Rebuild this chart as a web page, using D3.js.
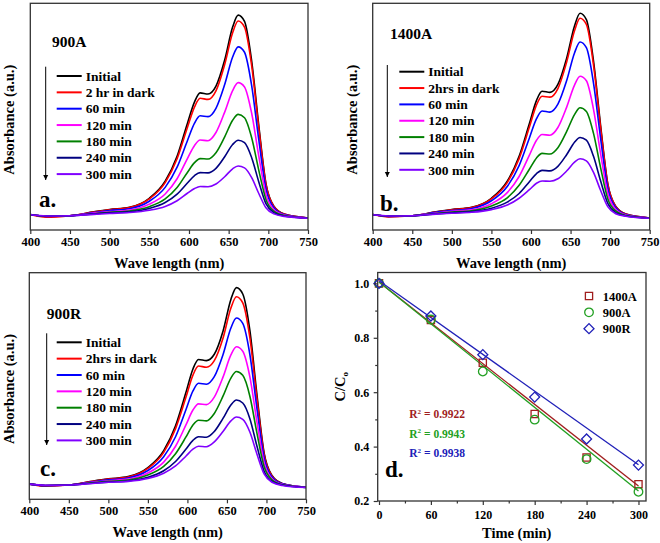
<!DOCTYPE html>
<html>
<head>
<meta charset="utf-8">
<script src="https://d3js.org/d3.v7.min.js"></script>
<style>
  body { margin: 0; background: #fff; }
  text { font-family: "Liberation Serif", "Times New Roman", serif; font-weight: bold; fill: #000; }
</style>
</head>
<body>
<svg id="fig" width="660" height="543"></svg>
<script>
// ---- data ----
const wavelengths = [400, 420, 450, 480, 500, 525, 550, 570, 585, 598, 607, 614, 624, 634, 645, 655, 662, 670, 679, 688, 697, 707, 720, 750];

const labels900A = ["Initial", "2 hr in dark", "60 min", "120 min", "180 min", "240 min", "300 min"];
const labelsOther = ["Initial", "2hrs in dark", "60 min", "120 min", "180 min", "240 min", "300 min"];
const curveColors = ["#000000", "#ff0000", "#0000ff", "#ff00ff", "#008000", "#000080", "#8000ff"];

// absorbance (a.u.), one row per time step
const spectra900A = [
  [.068,.060,.063,.080,.090,.100,.140,.215,.325,.470,.565,.605,.600,.635,.750,.895,.948,.920,.745,.460,.205,.105,.070,.053],
  [.068,.056,.063,.079,.089,.099,.137,.209,.314,.452,.543,.581,.576,.614,.730,.870,.922,.895,.725,.448,.201,.104,.070,.053],
  [.068,.060,.063,.077,.086,.094,.127,.188,.277,.394,.471,.504,.500,.537,.642,.763,.808,.784,.637,.397,.182,.098,.068,.053],
  [.067,.061,.063,.075,.081,.088,.114,.159,.226,.315,.373,.397,.394,.430,.520,.615,.650,.631,.515,.326,.157,.090,.066,.053],
  [.067,.061,.063,.072,.078,.084,.103,.137,.187,.254,.297,.315,.313,.341,.411,.484,.510,.495,.407,.263,.135,.083,.064,.052],
  [.067,.061,.063,.071,.076,.080,.095,.121,.158,.207,.240,.253,.252,.272,.323,.377,.396,.385,.319,.212,.116,.077,.062,.052],
  [.067,.062,.063,.069,.073,.077,.087,.104,.129,.162,.183,.192,.191,.203,.235,.270,.282,.274,.231,.161,.098,.071,.060,.052]
];
const spectra1400A = [
  [.068,.060,.063,.080,.090,.100,.140,.215,.325,.470,.572,.612,.607,.642,.757,.900,.956,.928,.745,.460,.205,.105,.070,.053],
  [.068,.058,.063,.079,.089,.099,.137,.209,.315,.454,.552,.590,.586,.624,.740,.879,.934,.907,.728,.450,.202,.104,.070,.053],
  [.068,.060,.063,.078,.086,.095,.129,.192,.284,.406,.491,.525,.520,.555,.658,.781,.829,.804,.648,.403,.185,.099,.068,.053],
  [.067,.061,.063,.075,.082,.089,.116,.165,.236,.330,.396,.421,.418,.452,.541,.639,.678,.658,.532,.336,.161,.091,.066,.053],
  [.067,.061,.063,.073,.079,.085,.106,.142,.197,.268,.318,.338,.335,.363,.434,.509,.539,.523,.426,.274,.138,.084,.064,.052],
  [.067,.061,.063,.071,.076,.081,.096,.123,.161,.213,.249,.263,.261,.281,.332,.387,.408,.396,.325,.216,.118,.077,.062,.052],
  [.067,.062,.063,.070,.074,.078,.090,.110,.140,.178,.206,.216,.215,.226,.260,.299,.314,.305,.254,.174,.103,.072,.061,.052]
];
const spectra900R = [
  [.068,.060,.063,.080,.090,.100,.140,.215,.325,.470,.575,.617,.612,.640,.742,.882,.934,.906,.745,.460,.205,.105,.070,.053],
  [.068,.058,.063,.079,.089,.098,.136,.207,.312,.449,.548,.588,.583,.612,.711,.844,.894,.867,.713,.442,.198,.103,.069,.053],
  [.068,.060,.063,.077,.086,.094,.127,.188,.276,.394,.478,.512,.508,.541,.638,.756,.800,.776,.639,.399,.183,.098,.068,.053],
  [.067,.061,.063,.075,.082,.089,.116,.164,.234,.327,.394,.421,.418,.451,.539,.637,.673,.653,.540,.341,.162,.091,.066,.053],
  [.067,.061,.063,.073,.079,.085,.107,.145,.201,.274,.328,.349,.346,.379,.455,.535,.564,.547,.455,.291,.145,.086,.064,.052],
  [.067,.061,.063,.071,.076,.081,.097,.126,.167,.221,.260,.276,.274,.299,.357,.416,.438,.425,.356,.234,.124,.079,.063,.052],
  [.067,.062,.063,.070,.075,.079,.092,.115,.147,.190,.221,.234,.232,.253,.299,.346,.363,.353,.297,.199,.112,.075,.061,.052]
];
const wlTicks = [400, 450, 500, 550, 600, 650, 700, 750];

// panel d: C/C0 vs time
const times = [0, 60, 120, 180, 240, 300];
const ratio1400A = [1.0, 0.865, 0.708, 0.520, 0.360, 0.262];
const ratio900A = [1.0, 0.867, 0.676, 0.499, 0.354, 0.234];
const ratio900R = [1.0, 0.880, 0.738, 0.582, 0.428, 0.332];
const fitEnds1400A = [1.005, 0.255];   // linear fit at t = 0 and t = 300
const fitEnds900A = [1.005, 0.237];
const fitEnds900R = [1.01, 0.333];
const kineticNames = ["1400A", "900A", "900R"];
const kineticColors = ["#a01e1e", "#22a022", "#2020b8"];
const r2Values = ["0.9922", "0.9943", "0.9938"];
const timeTicks = [0, 60, 120, 180, 240, 300];
const ratioTicks = [0.2, 0.4, 0.6, 0.8, 1.0];

const svg = d3.select("#fig");

// arrow head marker
svg.append("defs").append("marker")
  .attr("id", "arrow")
  .attr("viewBox", "0 0 10 10")
  .attr("refX", 10).attr("refY", 5)
  .attr("markerWidth", 5).attr("markerHeight", 6)
  .attr("markerUnits", "userSpaceOnUse")
  .attr("orient", "auto")
  .append("path").attr("d", "M0,0L10,5L0,10z").attr("fill", "#000");

function drawSpectra(cfg) {
  const g = svg.append("g");
  const x = d3.scaleLinear().domain([400, 750]).range([cfg.left, cfg.right]);
  const y = d3.scaleLinear().domain([0, 1]).range([cfg.bottom, cfg.top]);

  const line = d3.line()
    .x((d, i) => x(wavelengths[i]))
    .y(d => y(d))
    .curve(d3.curveMonotoneX);

  g.append("g")
    .selectAll("path")
    .data(cfg.spectra)
    .join("path")
    .attr("d", line)
    .attr("fill", "none")
    .attr("stroke", (d, i) => curveColors[i])
    .attr("stroke-width", 1.6);

  // frame
  g.append("rect")
    .attr("x", cfg.left).attr("y", cfg.top)
    .attr("width", cfg.right - cfg.left).attr("height", cfg.bottom - cfg.top)
    .attr("fill", "none").attr("stroke", "#333").attr("stroke-width", 1.3);

  const axis = g.append("g")
    .attr("transform", `translate(0,${cfg.bottom})`)
    .call(d3.axisBottom(x).tickValues(wlTicks).tickSize(4).tickPadding(3));
  axis.select(".domain").remove();
  axis.selectAll("line").attr("stroke", "#333").attr("stroke-width", 1.2);
  axis.selectAll("text").style("font-size", "12.5px").style("font-family", null).attr("fill", "#000");

  g.append("text")
    .attr("x", (cfg.left + cfg.right) / 2).attr("y", cfg.bottom + 38)
    .attr("text-anchor", "middle").style("font-size", "14.5px")
    .text("Wave length (nm)");

  g.append("text")
    .attr("transform", `translate(${cfg.yTitleX},${(cfg.top + cfg.bottom) / 2 + 3}) rotate(-90)`)
    .attr("text-anchor", "middle").style("font-size", "14.5px")
    .text("Absorbance (a.u.)");

  g.append("text")
    .attr("x", cfg.nameX).attr("y", cfg.nameY)
    .style("font-size", "15.5px")
    .text(cfg.name);

  g.append("text")
    .attr("x", cfg.letterX).attr("y", cfg.letterY)
    .style("font-size", "23px")
    .text(cfg.letter);

  // arrow
  g.append("line")
    .attr("x1", cfg.arrowX).attr("x2", cfg.arrowX)
    .attr("y1", cfg.arrowY0).attr("y2", cfg.arrowY1)
    .attr("stroke", "#000").attr("stroke-width", 1)
    .attr("marker-end", "url(#arrow)");

  // legend
  const leg = g.append("g")
    .selectAll("g")
    .data(cfg.labels)
    .join("g")
    .attr("transform", (d, i) => `translate(${cfg.legX},${cfg.legY + i * 16.35})`);
  leg.append("line")
    .attr("x1", 0).attr("x2", 25)
    .attr("stroke", (d, i) => curveColors[i])
    .attr("stroke-width", 2);
  leg.append("text")
    .attr("x", 29).attr("y", 4.7)
    .style("font-size", "13.5px")
    .text(d => d);
}

drawSpectra({
  spectra: spectra900A, labels: labels900A, name: "900A", letter: "a.",
  left: 30.3, right: 308, top: 3.3, bottom: 230,
  yTitleX: 14, nameX: 52, nameY: 47, letterX: 39, letterY: 206.5,
  arrowX: 45.7, arrowY0: 66.7, arrowY1: 180,
  legX: 56.7, legY: 76
});
drawSpectra({
  spectra: spectra1400A, labels: labelsOther, name: "1400A", letter: "b.",
  left: 372.7, right: 649.7, top: 3.3, bottom: 230,
  yTitleX: 357, nameX: 390, nameY: 38.5, letterX: 380, letterY: 210.5,
  arrowX: 387.3, arrowY0: 65, arrowY1: 177,
  legX: 399.3, legY: 71.7
});
drawSpectra({
  spectra: spectra900R, labels: labelsOther, name: "900R", letter: "c.",
  left: 29.3, right: 306, top: 272.7, bottom: 499.3,
  yTitleX: 14, nameX: 46.7, nameY: 318.5, letterX: 40, letterY: 476,
  arrowX: 46.7, arrowY0: 333.3, arrowY1: 445,
  legX: 56.7, legY: 342.3
});

// ---- panel d ----
(function drawKinetics() {
  const left = 377.7, right = 646, top = 272.5, bottom = 501;
  const g = svg.append("g");
  const x = d3.scaleLinear().domain([-1.5, 308.7]).range([left, right]);
  const y = d3.scaleLinear().domain([0.2, 1.04]).range([bottom, top]);

  const series = [ratio1400A, ratio900A, ratio900R];
  const fits = [fitEnds1400A, fitEnds900A, fitEnds900R];

  g.append("rect")
    .attr("x", left).attr("y", top)
    .attr("width", right - left).attr("height", bottom - top)
    .attr("fill", "none").attr("stroke", "#333").attr("stroke-width", 1.3);

  // fit lines
  fits.forEach((f, k) => {
    g.append("line")
      .attr("x1", x(times[0])).attr("y1", y(f[0]))
      .attr("x2", x(times[times.length - 1])).attr("y2", y(f[1]))
      .attr("stroke", kineticColors[k]).attr("stroke-width", 1.3);
  });

  // square, circle, diamond (square turned by 45 degrees)
  const symbols = [d3.symbolSquare, d3.symbolCircle, d3.symbolSquare];
  const sizes = [52, 58, 50];
  const turns = [0, 0, 45];
  series.forEach((s, k) => {
    g.append("g").selectAll("path")
      .data(s)
      .join("path")
      .attr("transform", (d, i) => `translate(${x(times[i])},${y(d)}) rotate(${turns[k]})`)
      .attr("d", d3.symbol(symbols[k], sizes[k]))
      .attr("fill", "none")
      .attr("stroke", kineticColors[k])
      .attr("stroke-width", 1.3);
  });

  // axes
  const xAxis = g.append("g")
    .attr("transform", `translate(0,${bottom})`)
    .call(d3.axisBottom(x).tickValues(timeTicks).tickSize(4).tickPadding(5));
  const xMinor = g.append("g")
    .attr("transform", `translate(0,${bottom})`)
    .call(d3.axisBottom(x).tickValues(d3.range(30, 300, 60)).tickSize(2.5).tickFormat(""));
  const yAxis = g.append("g")
    .attr("transform", `translate(${left},0)`)
    .call(d3.axisLeft(y).tickValues(ratioTicks).tickSize(4).tickPadding(4.5).tickFormat(d3.format(".1f")));
  const yMinor = g.append("g")
    .attr("transform", `translate(${left},0)`)
    .call(d3.axisLeft(y).tickValues([0.3, 0.5, 0.7, 0.9]).tickSize(2.5).tickFormat(""));
  [xAxis, xMinor, yAxis, yMinor].forEach(a => {
    a.select(".domain").remove();
    a.selectAll("line").attr("stroke", "#333").attr("stroke-width", 1.2);
    a.selectAll("text").style("font-size", "12px").style("font-family", null).attr("fill", "#000");
  });

  g.append("text")
    .attr("x", 516.7).attr("y", 538.3)
    .attr("text-anchor", "middle").style("font-size", "14.5px")
    .text("Time (min)");

  const yt = g.append("text")
    .attr("transform", `translate(345,${(top + bottom) / 2}) rotate(-90)`)
    .attr("text-anchor", "middle").style("font-size", "14.5px");
  yt.append("tspan").text("C/C");
  yt.append("tspan").attr("dy", 3).style("font-size", "9px").text("o");

  g.append("text")
    .attr("x", 385).attr("y", 477)
    .style("font-size", "23px")
    .text("d.");

  // legend
  kineticNames.forEach((name, k) => {
    const cy = 296 + k * 16.35;
    g.append("path")
      .attr("transform", `translate(589,${cy}) rotate(${turns[k]})`)
      .attr("d", d3.symbol(symbols[k], sizes[k]))
      .attr("fill", "none").attr("stroke", kineticColors[k]).attr("stroke-width", 1.3);
    g.append("text")
      .attr("x", 602.7).attr("y", cy + 4.5)
      .style("font-size", "12.5px")
      .text(name);
  });

  // R² labels
  r2Values.forEach((v, k) => {
    const t = g.append("text")
      .attr("x", 409.3).attr("y", 418 + k * 19.6)
      .style("font-size", "11.5px")
      .style("fill", kineticColors[k]);
    t.append("tspan").text("R");
    t.append("tspan").attr("dy", -4.5).style("font-size", "7px").text("2");
    t.append("tspan").attr("dy", 4.5).text(" = " + v);
  });
})();
</script>
</body>
</html>
